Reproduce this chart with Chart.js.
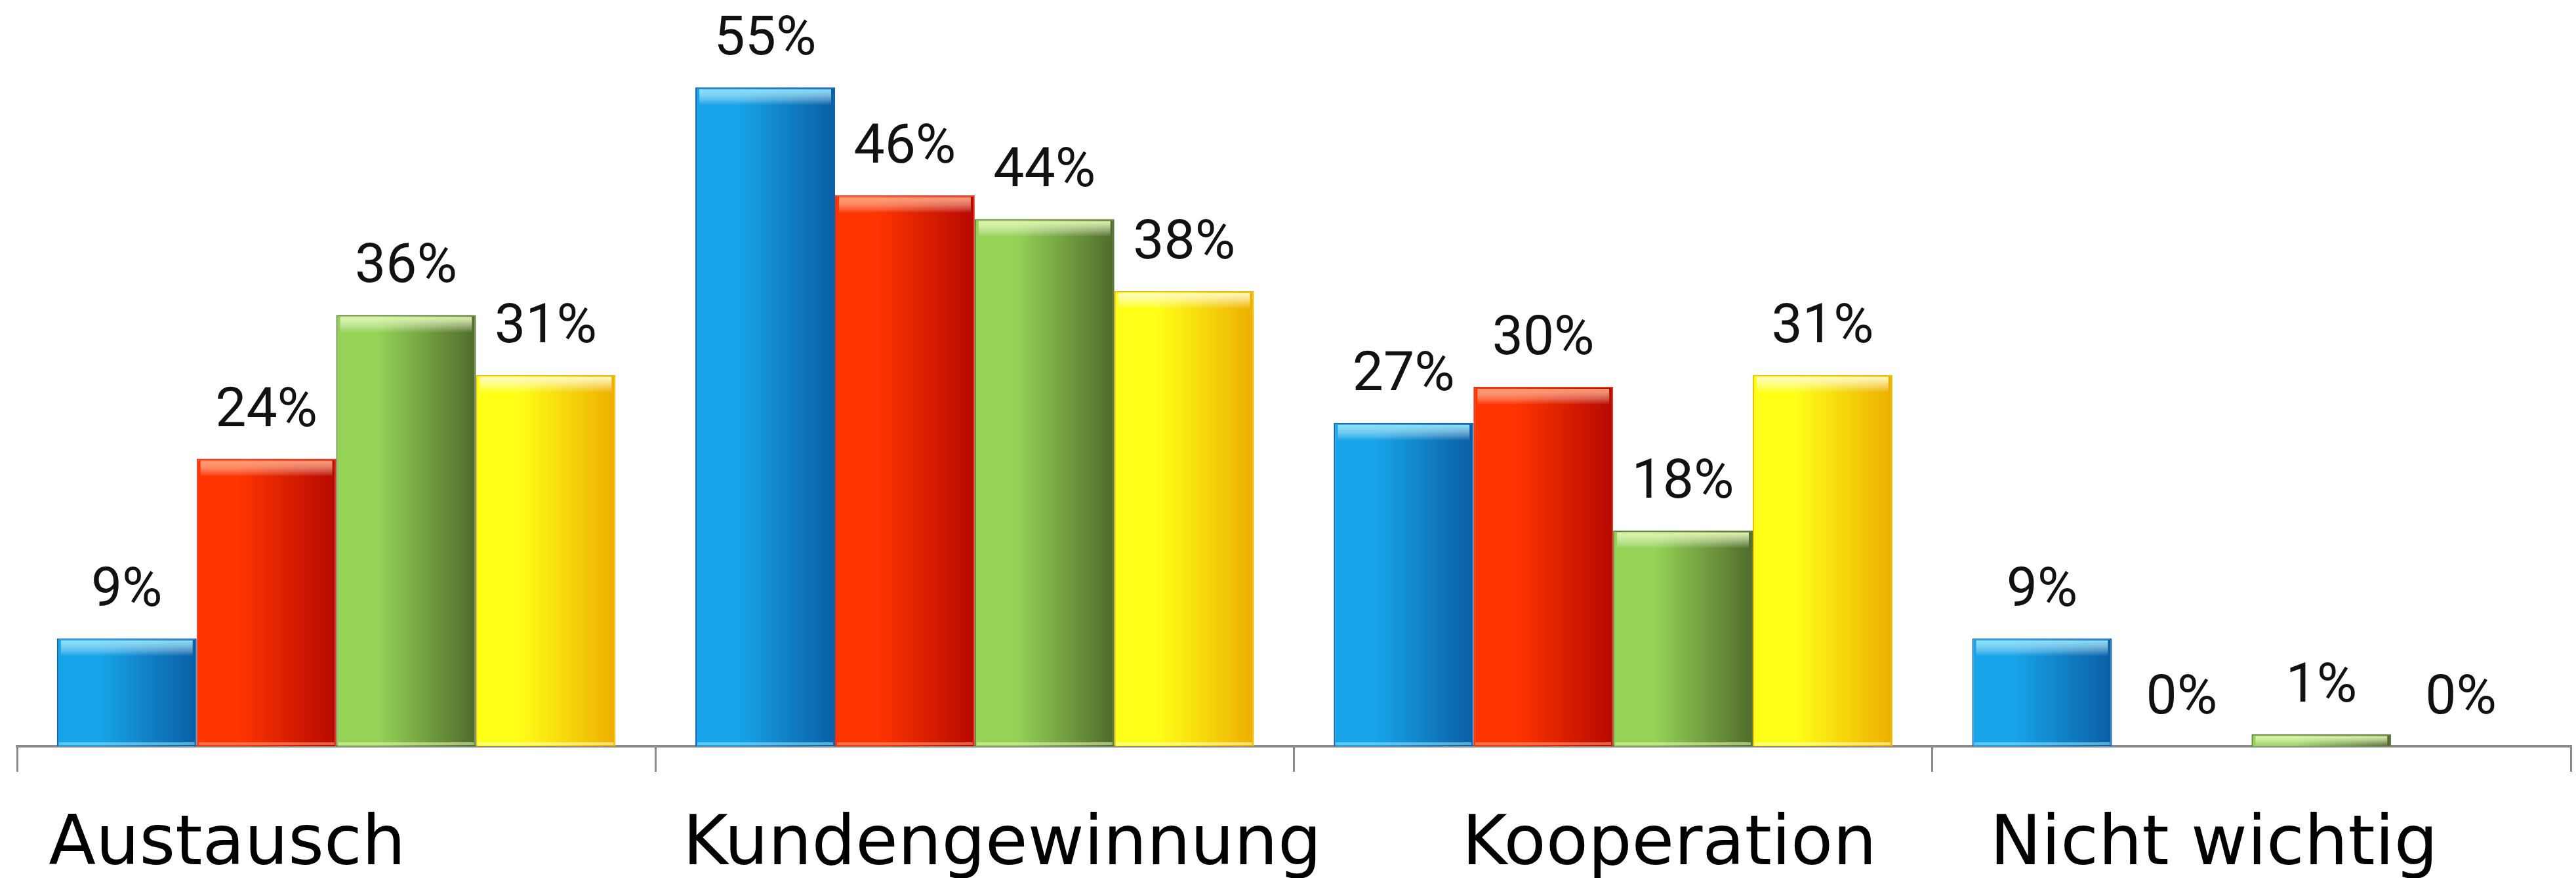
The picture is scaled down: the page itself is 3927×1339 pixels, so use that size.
<!DOCTYPE html>
<html>
<head>
<meta charset="utf-8">
<script src="https://cdn.jsdelivr.net/npm/chart.js@4.4.1/dist/chart.umd.min.js"></script>
<style>
  html, body { margin: 0; padding: 0; background: #fff; }
</style>
</head>
<body>
<canvas id="barChart" width="3927" height="1339"></canvas>
<script>
const categories = ['Austausch', 'Kundengewinnung', 'Kooperation', 'Nicht wichtig'];
const seriesBlue = [9, 55, 27, 9];
const seriesRed = [24, 46, 30, 0];
const seriesGreen = [36, 44, 18, 1];
const seriesYellow = [31, 38, 31, 0];

// farben je reihe: links hell, rechts dunkel, glanzkante, rand
const shades = [
  ['#17a4e8', '#0a5ea4', '#86e0fa', '#0b5fae'],
  ['#ff3500', '#b50900', '#ff9a70', '#e4351c'],
  ['#94d356', '#506a2b', '#def5a6', '#5b7a34'],
  ['#ffff18', '#edae00', '#fffbc0', '#f0c000'],
];
// die kategorie-texte stehen im original nicht genau mittig
const labelShift = [-0.171, 0.043, 0.088, -0.059];

const barLook = {
  id: 'barLook',
  beforeDatasetsDraw(chart) {
    const c = chart.ctx;
    chart.data.datasets.forEach((ds, i) => {
      const s = shades[i];
      chart.getDatasetMeta(i).data.forEach(bar => {
        const g = c.createLinearGradient(bar.x - bar.width / 2, 0, bar.x + bar.width / 2, 0);
        g.addColorStop(0, s[0]);
        g.addColorStop(0.3, s[0]);
        g.addColorStop(1, s[1]);
        bar.options = Object.assign({}, bar.options, { backgroundColor: g });
      });
    });
  },
  afterDatasetsDraw(chart) {
    const c = chart.ctx;
    c.save();
    chart.data.datasets.forEach((ds, i) => {
      chart.getDatasetMeta(i).data.forEach((bar, j) => {
        const left = bar.x - bar.width / 2;
        const h = bar.base - bar.y;
        if (h > 2) {
          // glanz oben
          const hh = Math.min(24, h - 3);
          const hg = c.createLinearGradient(0, bar.y + 3, 0, bar.y + 3 + hh);
          hg.addColorStop(0, shades[i][2]);
          hg.addColorStop(1, 'rgba(255,255,255,0)');
          c.fillStyle = hg;
          c.fillRect(left + 6, bar.y + 3, bar.width - 12, hh);
          // heller streifen unten
          if (h > 20) {
            c.globalAlpha = 0.6;
            c.fillStyle = shades[i][2];
            c.fillRect(left + 3, bar.base - 6, bar.width - 6, 4);
            c.globalAlpha = 1;
          }
        }
        c.fillStyle = '#111';
        c.font = '84px Roboto';
        c.textAlign = 'center';
        c.textBaseline = 'alphabetic';
        c.fillText(ds.data[j] + '%', bar.x, bar.y - 50);
      });
    });
    const xs = chart.scales.x;
    const w = (chart.chartArea.right - chart.chartArea.left) / categories.length;
    c.font = '105px "DejaVu Sans"';
    c.fillStyle = '#000';
    c.textAlign = 'center';
    categories.forEach((name, k) => {
      c.fillText(name, xs.getPixelForValue(k) + labelShift[k] * w, chart.chartArea.bottom + 180);
    });
    c.restore();
  }
};

const ctx = document.getElementById('barChart').getContext('2d');
const barChart = new Chart(ctx, {
  type: 'bar',
  data: {
    labels: categories,
    datasets: [seriesBlue, seriesRed, seriesGreen, seriesYellow].map((d, i) => ({
      data: d,
      backgroundColor: shades[i][0],
      borderColor: shades[i][3],
      borderWidth: 2,
      borderSkipped: 'start',
    }))
  },
  options: {
    responsive: false,
    animation: false,
    layout: { padding: { left: 26, right: 8, top: 0, bottom: 0 } },
    plugins: {
      legend: { display: false },
      tooltip: { enabled: false }
    },
    datasets: { bar: { barPercentage: 1, categoryPercentage: 0.875 } },
    scales: {
      x: {
        grid: { offset: true, drawOnChartArea: false, drawTicks: true, tickLength: 39, color: '#8a8a8a', lineWidth: 3 },
        border: { display: true, color: '#8a8a8a', width: 4 },
        ticks: { display: false },
        afterFit(scale) { scale.height = 201; }
      },
      y: { display: false, min: 0, max: 62.3 }
    }
  },
  plugins: [barLook]
});
</script>
</body>
</html>
